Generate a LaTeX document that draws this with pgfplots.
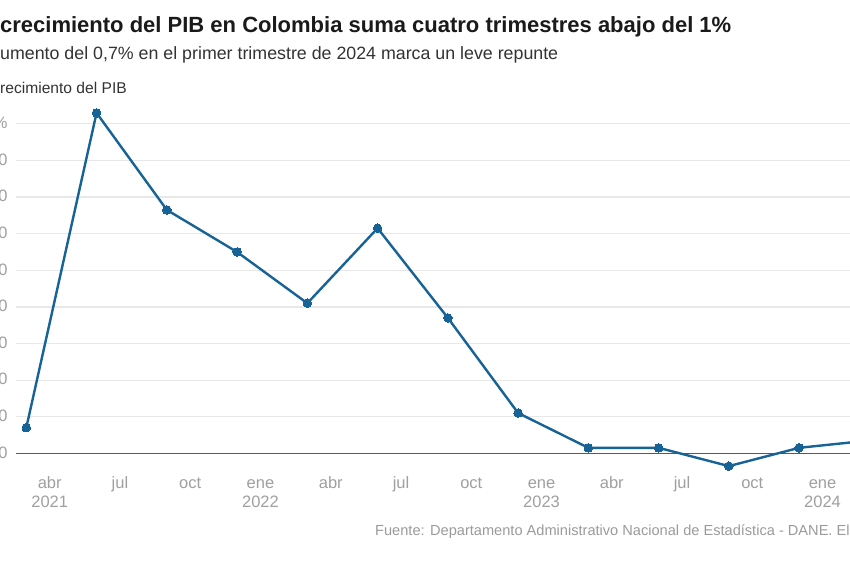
\documentclass[border=0pt]{standalone}
\usepackage{pgfplots}
\pgfplotsset{compat=1.18}
\usepackage{fontspec}
\setmainfont{Liberation Sans}
\definecolor{linecol}{RGB}{23,99,150}
\definecolor{titlecol}{RGB}{26,26,26}
\definecolor{subcol}{RGB}{51,51,51}
\definecolor{tickcol}{RGB}{160,160,160}
\definecolor{gridcol}{RGB}{232,232,232}
\definecolor{zerocol}{RGB}{90,90,90}
\definecolor{srccol}{RGB}{155,155,155}
\begin{document}
\begin{tikzpicture}
\path[use as bounding box] (0pt,0pt) rectangle (850pt,560pt);
\clip (0pt,0pt) rectangle (850pt,560pt);
\fill[white] (0pt,0pt) rectangle (850pt,560pt);
% title
\node[anchor=base west, inner sep=0, text=titlecol, font=\fontsize{22}{26}\selectfont\bfseries] at (0pt,527pt) {crecimiento del PIB en Colombia suma cuatro trimestres abajo del 1\%};
\node[anchor=base east, inner sep=0, text=titlecol, font=\fontsize{22}{26}\selectfont\bfseries] at (0pt,527pt) {El\ };
% subtitle
\node[anchor=base west, inner sep=0, text=subcol, font=\fontsize{17.8}{21}\selectfont] at (0pt,500pt) {umento del 0,7\% en el primer trimestre de 2024 marca un leve repunte};
\node[anchor=base east, inner sep=0, text=subcol, font=\fontsize{17.8}{21}\selectfont] at (0pt,500pt) {El a};
% axis title
\node[anchor=base west, inner sep=0, text=subcol, font=\fontsize{15.6}{19}\selectfont] at (0pt,466pt) {recimiento del PIB};
\node[anchor=base east, inner sep=0, text=subcol, font=\fontsize{15.6}{19}\selectfont] at (0pt,466pt) {C};
% source
\node[anchor=base west, inner sep=0, text=srccol, font=\fontsize{14.6}{18}\selectfont] at (375pt,25pt) {Fuente: Departamento Administrativo Nacional de Estadística - DANE. El País};
\begin{axis}[
  at={(16pt,70.1pt)}, anchor=south west,
  scale only axis,
  width=876.8pt, height=393.45pt,
  xmin=1.56, xmax=39, ymin=-2, ymax=19.5,
  clip=false,
  axis line style={draw=none},
  xtick={3,6,...,36},
  xticklabels={abr,jul,oct,ene,abr,jul,oct,ene,abr,jul,oct,ene},
  extra x ticks={3,12,24,36},
  extra x tick labels={2021,2022,2023,2024},
  extra x tick style={xticklabel style={yshift=-19.7pt}, major tick length=0pt},
  ytick={2,4,...,18},
  yticklabels={{2,0},{4,0},{6,0},{8,0},{10,0},{12,0},{14,0},{16,0},{18,0\,\%}},
  extra y ticks={0},
  extra y tick labels={{0,0}},
  extra y tick style={ymajorgrids=true, major grid style={draw=zerocol, line width=1.6pt}, major tick length=0pt},
  ymajorgrids,
  major grid style={draw=gridcol, line width=1.2pt},
  major tick length=0pt,
  tick style={draw=none},
  xticklabel style={anchor=base, inner sep=0pt, yshift=1.9pt, text=tickcol, font=\fontsize{16.5}{19}\selectfont},
  yticklabel style={anchor=east, inner sep=0pt, xshift=-8.2pt, text=tickcol, font=\fontsize{16.5}{19}\selectfont},
]
\addplot[color=linecol, line width=2.4pt, mark=*, mark size=4.3pt, mark options={fill=linecol, draw=linecol, line width=0pt}]
coordinates {
(2,1.4) (5,18.6) (8,13.3) (11,11.0) (14,8.2) (17,12.3) (20,7.4) (23,2.2)
(26,0.3) (29,0.3) (32,-0.7) (35,0.3) (38,0.7)
};
\end{axis}
\end{tikzpicture}
\end{document}
